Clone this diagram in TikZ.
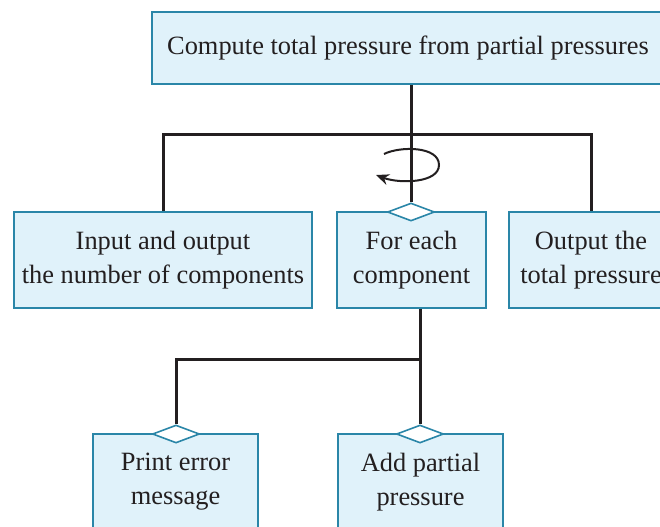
\documentclass[tikz,border=0pt]{standalone}
\usepackage{fontspec}
\setmainfont{Liberation Serif}
\usetikzlibrary{shapes.geometric,arrows.meta}
\definecolor{boxfill}{HTML}{E0F2FA}
\definecolor{boxline}{HTML}{2A86A8}
\definecolor{ink}{HTML}{231F20}
\tikzset{
  task/.style={draw=boxline, fill=boxfill, line width=0.8pt, align=center,
    inner sep=0pt, minimum height=48pt, font=\fontsize{13.2}{17}\selectfont,
    text=ink},
  loopmark/.style={shape=diamond, draw=boxline, fill=white, line width=0.8pt,
    inner sep=0pt, minimum width=23.5pt, minimum height=9pt},
  link/.style={draw=ink, line width=1.5pt},
  repeat/.style={draw=ink, line width=1pt, -{Stealth[length=6.5pt,width=5.5pt]}}
}
\begin{document}
\begin{tikzpicture}[x=0.5pt, y=-0.5pt]
  \useasboundingbox (0,0) rectangle (660,526);
  \clip (0,0) rectangle (660,526);

  % task boxes
  \node[task, minimum width=256pt, minimum height=36pt] (top) at (408,48)
    {Compute total pressure from partial pressures};
  \node[task, minimum width=149pt] (input) at (163,260)
    {Input and output\\the number of components};
  \node[task, minimum width=74.5pt] (each) at (411.5,260)
    {For each\\component};
  \node[task, minimum width=82pt] (output) at (591,260)
    {Output the\\total pressure};
  \node[task, minimum width=82.5pt] (perr) at (175.5,482)
    {Print error\\message};
  \node[task, minimum width=82.5pt] (addp) at (420.5,482)
    {Add partial\\pressure};

  % diamond markers on top edges
  \node[loopmark] (deach) at (411,212) {};
  \node[loopmark] (dperr) at (176,434) {};
  \node[loopmark] (daddp) at (420,434) {};

  % junction points
  \coordinate (jl) at (163,134);
  \coordinate (jm) at (411,134);
  \coordinate (jr) at (591,134);
  \coordinate (kl) at (176,359);
  \coordinate (km) at (420,359);

  % connectors, first level
  \draw[link] (top.south -| jm) -- (deach.north);
  \draw[link] (input.north -| jl) -- (jl) -- (jr) -- (output.north -| jr);

  % connectors, second level
  \draw[link] (each.south -| km) -- (daddp.north);
  \draw[link] (km) -- (kl) -- (dperr.north);

  % repetition arrow
  \draw[repeat] (384,154) .. controls (400,146) and (439,146) .. (439,165)
    .. controls (439,183) and (400,184) .. (376,175);
\end{tikzpicture}
\end{document}
